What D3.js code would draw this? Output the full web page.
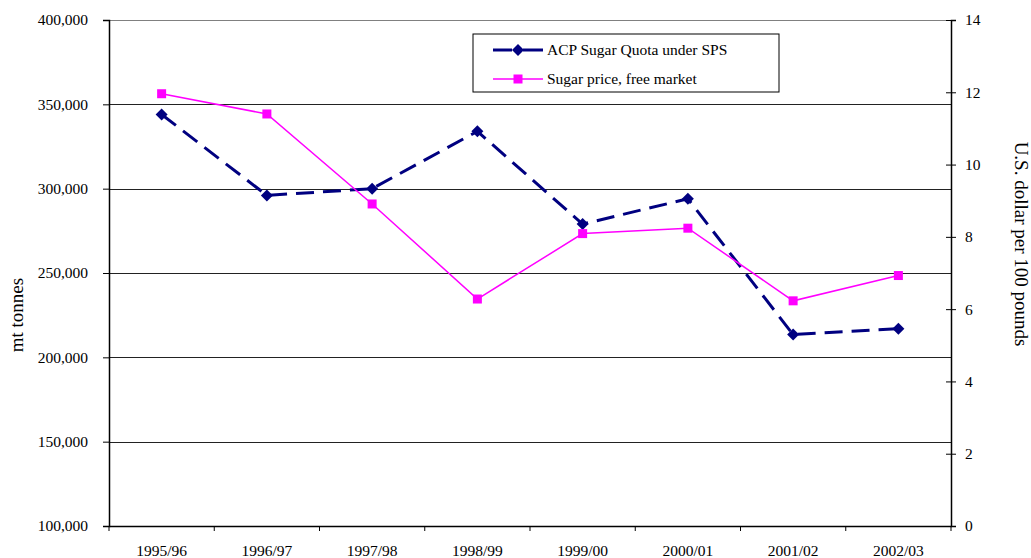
<!DOCTYPE html>
<html>
<head>
<meta charset="utf-8">
<script src="https://cdn.jsdelivr.net/npm/d3@7"></script>
<style>
  body { margin: 0; background: #fff; }
  svg { display: block; font-family: "Liberation Serif", "Times New Roman", serif; }
  .axis text { font-family: "Liberation Serif", "Times New Roman", serif; font-size: 15.5px; fill: #000; }
  .axis path, .axis line { stroke: #000; }
</style>
</head>
<body>
<div id="chart"></div>
<script>
// Chart data
const seasons = ["1995/96", "1996/97", "1997/98", "1998/99", "1999/00", "2000/01", "2001/02", "2002/03"];
const acpQuota = [344000, 296000, 300000, 334000, 279000, 294000, 213500, 217000];
const sugarPrice = [11.96, 11.40, 8.91, 6.28, 8.09, 8.24, 6.23, 6.93];
const leftTicks = [100000, 150000, 200000, 250000, 300000, 350000, 400000];
const rightTicks = [0, 2, 4, 6, 8, 10, 12, 14];

// Set svg width and height
const svgWidth = 1031;
const svgHeight = 558;

// Set chart margins
const margin = { top: 20, right: 80, bottom: 32, left: 109 };

const width = svgWidth - (margin.left + margin.right);
const height = svgHeight - (margin.top + margin.bottom);

const svg = d3.select("#chart")
              .append("svg")
              .attr("width", svgWidth)
              .attr("height", svgHeight);

const chartGroup = svg.append("g")
                      .attr("transform", `translate(${margin.left}, ${margin.top})`);

// Scales
const xScale = d3.scaleBand()
                 .domain(seasons)
                 .range([0, width])
                 .padding(0);

const yLeft = d3.scaleLinear()
                .domain([100000, 400000])
                .range([height, 0]);

const yRight = d3.scaleLinear()
                 .domain([0, 14])
                 .range([height, 0]);

const cx = d => xScale(d) + xScale.bandwidth() / 2;

// Gridlines
chartGroup.append("g")
          .selectAll("line")
          .data(leftTicks.slice(1))
          .enter()
          .append("line")
          .attr("x1", 0)
          .attr("x2", width)
          .attr("y1", d => Math.round(yLeft(d)) + 0.5)
          .attr("y2", d => Math.round(yLeft(d)) + 0.5)
          .attr("stroke", d => d === 400000 ? "#808080" : "#222")
          .attr("stroke-width", 1);

// Left axis
const leftAxis = chartGroup.append("g")
                           .attr("class", "axis")
                           .call(d3.axisLeft(yLeft)
                                   .tickValues(leftTicks)
                                   .tickSize(6)
                                   .tickPadding(15)
                                   .tickFormat(d3.format(",")));
leftAxis.select(".domain").attr("stroke-width", 1.5);

// Right axis, ticks crossing the line
const rightAxis = chartGroup.append("g")
                            .attr("class", "axis")
                            .attr("transform", `translate(${width}, 0)`)
                            .call(d3.axisRight(yRight)
                                    .tickValues(rightTicks)
                                    .tickSize(5)
                                    .tickPadding(9));
rightAxis.select(".domain").attr("stroke-width", 1.5);
rightAxis.selectAll(".tick line").attr("x1", -5);

// Bottom axis: labels under categories, ticks on boundaries
const bottomAxis = chartGroup.append("g")
                             .attr("class", "axis")
                             .attr("transform", `translate(0, ${height})`)
                             .call(d3.axisBottom(xScale).tickSize(0).tickPadding(19));
bottomAxis.select(".domain").attr("stroke-width", 1.5);

bottomAxis.append("g")
          .selectAll("line")
          .data(seasons.map(d => xScale(d)).concat([width]))
          .enter()
          .append("line")
          .attr("x1", d => d)
          .attr("x2", d => d)
          .attr("y1", 0)
          .attr("y2", 5)
          .attr("stroke", "#000");

// Axis titles
svg.append("text")
   .attr("transform", `translate(23, ${margin.top + yLeft(225000)}) rotate(-90)`)
   .attr("text-anchor", "middle")
   .style("font-size", "19px")
   .text("mt tonnes");

svg.append("text")
   .attr("transform", `translate(1015, ${margin.top + 224}) rotate(90)`)
   .attr("text-anchor", "middle")
   .style("font-size", "19px")
   .text("U.S. dollar per 100 pounds");

// ACP quota line (dashed, navy)
const quotaLine = d3.line()
                    .x((d, i) => cx(seasons[i]))
                    .y(d => yLeft(d));

chartGroup.append("path")
          .datum(acpQuota)
          .attr("d", quotaLine)
          .attr("fill", "none")
          .attr("stroke", "#000080")
          .attr("stroke-width", 3)
          .attr("stroke-dasharray", "18,9");

const diamond = d3.symbol().type(d3.symbolSquare).size(72);

chartGroup.append("g")
          .selectAll("path")
          .data(acpQuota)
          .enter()
          .append("path")
          .attr("d", diamond)
          .attr("transform", (d, i) => `translate(${cx(seasons[i])}, ${yLeft(d)}) rotate(45)`)
          .attr("fill", "#000080");

// Sugar price line (solid, magenta)
const priceLine = d3.line()
                    .x((d, i) => cx(seasons[i]))
                    .y(d => yRight(d));

chartGroup.append("path")
          .datum(sugarPrice)
          .attr("d", priceLine)
          .attr("fill", "none")
          .attr("stroke", "#FF00FF")
          .attr("stroke-width", 1.5);

chartGroup.append("g")
          .selectAll("rect")
          .data(sugarPrice)
          .enter()
          .append("rect")
          .attr("x", (d, i) => cx(seasons[i]) - 4.5)
          .attr("y", d => yRight(d) - 4.5)
          .attr("width", 9)
          .attr("height", 9)
          .attr("fill", "#FF00FF");

// Legend
const legend = svg.append("g").attr("transform", "translate(473, 34)");

legend.append("rect")
      .attr("width", 306)
      .attr("height", 58)
      .attr("fill", "#fff")
      .attr("stroke", "#000")
      .attr("stroke-width", 1);

const legendItems = [
  { label: "ACP Sugar Quota under SPS", color: "#000080", width: 3, marker: "diamond" },
  { label: "Sugar price, free market", color: "#FF00FF", width: 1.5, marker: "square" }
];

legendItems.forEach((item, i) => {
  const row = legend.append("g").attr("transform", `translate(0, ${16 + i * 29})`);
  if (item.marker === "diamond") {
    row.append("line").attr("x1", 20).attr("x2", 39).attr("y1", 0).attr("y2", 0)
       .attr("stroke", item.color).attr("stroke-width", item.width);
    row.append("line").attr("x1", 50).attr("x2", 70).attr("y1", 0).attr("y2", 0)
       .attr("stroke", item.color).attr("stroke-width", item.width);
    row.append("path").attr("d", diamond)
       .attr("transform", "translate(45, 0) rotate(45)")
       .attr("fill", item.color);
  } else {
    row.append("line").attr("x1", 20).attr("x2", 70).attr("y1", 0).attr("y2", 0)
       .attr("stroke", item.color).attr("stroke-width", item.width);
    row.append("rect").attr("x", 40.5).attr("y", -4.5).attr("width", 9).attr("height", 9)
       .attr("fill", item.color);
  }
  row.append("text")
     .attr("x", 74)
     .attr("y", 0)
     .attr("dy", "0.35em")
     .style("font-size", "15.5px")
     .text(item.label);
});
</script>
</body>
</html>
